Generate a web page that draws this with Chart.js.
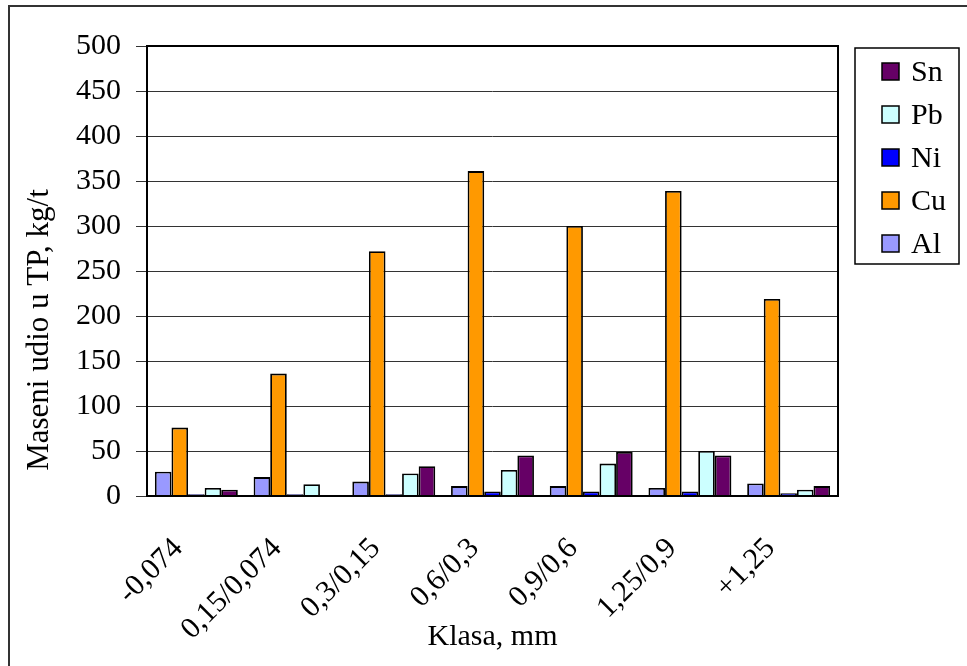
<!DOCTYPE html>
<html>
<head>
<meta charset="utf-8">
<script src="https://cdn.jsdelivr.net/npm/chart.js@4/dist/chart.umd.min.js"></script>
<style>
    body { margin: 0; background: #fff; overflow: hidden; }
    #wrap { position: relative; width: 967px; height: 666px; }
</style>
</head>
<body>
<div id="wrap"><canvas id="chartCanvas"></canvas></div>
<script>
// Klase krupnoće
const klase = ["-0,074", "0,15/0,074", "0,3/0,15", "0,6/0,3", "0,9/0,6", "1,25/0,9", "+1,25"];

// Maseni udio po metalu, kg/t
const al = [27, 21, 16, 11, 11, 9, 14];
const cu = [76, 136, 272, 361, 300, 339, 219];
const ni = [2, 2, 2, 5, 5, 5, 3];
const pb = [9, 13, 25, 29, 36, 50, 7];
const sn = [7, 0, 33, 45, 49, 45, 11];

const yTicks = [0, 50, 100, 150, 200, 250, 300, 350, 400, 450, 500];

const fontFamily = "'Liberation Serif', 'Times New Roman', serif";
Chart.defaults.font.family = fontFamily;
Chart.defaults.font.size = 30;
Chart.defaults.color = '#000';

// Okvir, naslov y ose i legenda
const okvirPlugin = {
    id: 'okvir',
    beforeDraw(chart) {
        const ctx = chart.ctx;
        ctx.save();
        ctx.fillStyle = '#fff';
        ctx.fillRect(0, 0, chart.width, chart.height);
        ctx.strokeStyle = '#333';
        ctx.lineWidth = 2;
        ctx.strokeRect(9, 6, chart.width + 20, chart.height + 20);
        ctx.restore();
    },
    afterDraw(chart) {
        const ctx = chart.ctx;
        const a = chart.chartArea;
        ctx.save();
        // okvir grafika
        ctx.strokeStyle = '#000';
        ctx.lineWidth = 2;
        ctx.strokeRect(a.left, a.top, a.right - a.left, a.bottom - a.top);

        // naslov y ose
        ctx.translate(40, 330);
        ctx.rotate(-Math.PI / 2);
        ctx.fillStyle = '#000';
        ctx.font = '31px ' + fontFamily;
        ctx.textAlign = 'center';
        ctx.textBaseline = 'middle';
        ctx.fillText('Maseni udio u TP, kg/t', 0, 0);
        ctx.restore();

        // legenda (obrnuti redoslijed)
        ctx.save();
        ctx.strokeStyle = '#000';
        ctx.lineWidth = 1.5;
        ctx.strokeRect(855, 48, 104, 216);
        ctx.font = '30px ' + fontFamily;
        ctx.textBaseline = 'middle';
        const sets = chart.data.datasets.slice().reverse();
        sets.forEach((ds, i) => {
            const y = 71 + i * 43;
            ctx.fillStyle = ds.backgroundColor;
            ctx.fillRect(882, y - 8, 17, 17);
            ctx.strokeRect(882, y - 8, 17, 17);
            ctx.fillStyle = '#000';
            ctx.fillText(ds.label, 911, y + 2);
        });
        ctx.restore();
    }
};

const ctx = document.getElementById('chartCanvas').getContext('2d');

const seriesDef = [
    { label: 'Al', data: al, color: '#9999FF' },
    { label: 'Cu', data: cu, color: '#FF9900' },
    { label: 'Ni', data: ni, color: '#0000FF' },
    { label: 'Pb', data: pb, color: '#CCFFFF' },
    { label: 'Sn', data: sn, color: '#660066' }
];

const chart = new Chart(ctx, {
    type: 'bar',
    data: {
        labels: klase,
        datasets: seriesDef.map(s => ({
            label: s.label,
            data: s.data,
            backgroundColor: s.color,
            borderColor: '#000',
            borderWidth: 1.8,
            categoryPercentage: 0.84,
            barPercentage: 1
        }))
    },
    options: {
        responsive: true,
        maintainAspectRatio: false,
        animation: false,
        layout: { padding: { top: 46, right: 129, bottom: 0, left: 0 } },
        plugins: {
            legend: { display: false },
            tooltip: { enabled: false }
        },
        scales: {
            x: {
                grid: { display: false },
                border: { display: false },
                ticks: {
                    minRotation: 45,
                    maxRotation: 45,
                    padding: 27,
                    labelOffset: -18,
                    font: { size: 30 }
                },
                title: {
                    display: true,
                    text: 'Klasa, mm',
                    font: { size: 30 },
                    padding: { top: 0, bottom: 11 }
                },
                afterFit(scale) { scale.height = 170; }
            },
            y: {
                min: 0,
                max: 500,
                afterBuildTicks(scale) { scale.ticks = yTicks.map(v => ({ value: v })); },
                grid: { color: '#333', lineWidth: 1, tickLength: 11 },
                border: { display: false },
                ticks: { padding: 15, font: { size: 30 } },
                afterFit(scale) { scale.width = 147; }
            }
        }
    },
    plugins: [okvirPlugin]
});
</script>
</body>
</html>
